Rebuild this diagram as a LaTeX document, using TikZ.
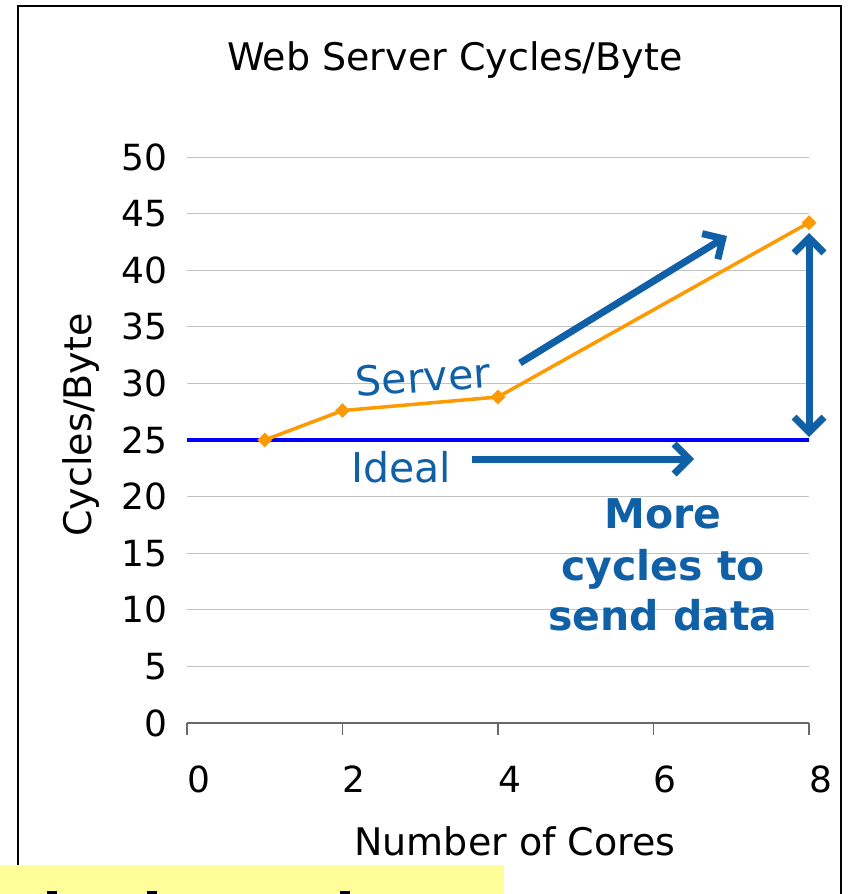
\documentclass[tikz,border=0pt]{standalone}
\usepackage{fontspec}
\setmainfont{DejaVu Sans}
\usetikzlibrary{arrows.meta,shapes.geometric}
\definecolor{annot}{RGB}{16,96,168}
\definecolor{serieorange}{RGB}{255,153,0}
\definecolor{gridgray}{RGB}{195,195,195}
\definecolor{axisgray}{RGB}{105,105,105}
\definecolor{notebg}{RGB}{255,255,153}
\begin{document}
\begin{tikzpicture}[x=1pt,y=-1pt,
  lbl/.style={inner sep=0pt, font=\fontsize{36}{43}\selectfont},
  ttl/.style={inner sep=0pt, font=\fontsize{38}{45}\selectfont},
  note/.style={inner sep=0pt, text=annot, font=\fontsize{41}{50}\selectfont},
  notebold/.style={inner sep=0pt, text=annot, font=\fontsize{41}{50}\selectfont\bfseries},
  gridline/.style={draw=gridgray, line width=1pt},
  axisline/.style={draw=axisgray, line width=1.2pt},
  idealline/.style={draw=blue, line width=4pt},
  serieline/.style={draw=serieorange, line width=3.5pt, line join=round},
  marker/.style={shape=diamond, fill=serieorange, inner sep=0pt, minimum width=15pt, minimum height=15pt},
  bigarrow/.style={draw=annot, line width=7pt, -{Straight Barb[length=15pt,width=30pt]}},
  bigdouble/.style={draw=annot, line width=7pt, {Straight Barb[length=15pt,width=30pt]}-{Straight Barb[length=15pt,width=30pt]}}]

\useasboundingbox (0,0) rectangle (848,894);
\clip (0,0) rectangle (848,894);
\fill[white] (0,0) rectangle (848,894);

% chart frame (its lower edge lies below the page)
\draw[line width=1.5pt] (18,6) rectangle (841,930);

% title and axis titles
\node[ttl, anchor=base] (title) at (455,70) {Web Server Cycles/Byte};
\node[ttl, anchor=base] (xtitle) at (515,855) {Number of Cores};
\node[ttl, anchor=base, rotate=90] (ytitle) at (91,425) {Cycles/Byte};

% plot area in data coordinates
\begin{scope}[shift={(187,723)}, x=77.75pt, y=11.32pt]
  \foreach \v in {5,10,...,50}
    \draw[gridline] (0,\v) -- (8,\v);
  \foreach \v in {0,5,...,50}
    \node[lbl, anchor=base east] (yl\v) at ([xshift=-19pt,yshift=-13pt]0,\v) {\v};
  \draw[axisline] (0,0) -- (8,0);
  \foreach \t in {0,2,4,6,8} {
    \draw[axisline] (\t,0) -- ++(0,-12pt);
    \node[lbl, anchor=base west] (xl\t) at ([yshift=-69pt]\t,0) {\t};
  }
  % ideal scaling
  \coordinate (i0) at (0,25);
  \coordinate (i8) at (8,25);
  \draw[idealline] (i0) -- (i8);
  % measured server series
  \coordinate (q1) at (1,25);
  \coordinate (q2) at (2,27.6);
  \coordinate (q4) at (4,28.8);
  \coordinate (q8) at (8,44.2);
  \draw[serieline] (q1) -- (q2) -- (q4) -- (q8);
  \node[marker] (p1) at (q1) {};
  \node[marker] (p2) at (q2) {};
  \node[marker] (p4) at (q4) {};
  \node[marker] (p8) at (q8) {};
\end{scope}

% annotations
\node[note, anchor=base, rotate=4] (server) at (424,392) {Server};
\node[note, anchor=base] (ideal) at (401,482) {Ideal};
\node[notebold, anchor=base] (more1) at (663,528) {More};
\node[notebold, anchor=base] (more2) at (663,580) {cycles to};
\node[notebold, anchor=base] (more3) at (663,630) {send data};

\coordinate (sa) at (520,363);
\coordinate (sb) at (727,236);
\draw[bigarrow] (sa) -- (sb);
\coordinate (ia) at (472,459);
\coordinate (ib) at (694,459);
\draw[bigarrow] (ia) -- (ib);
\coordinate (va) at (809,233);
\coordinate (vb) at (809,437);
\draw[bigdouble] (va) -- (vb);

% note strip at the bottom, its text cut off by the page edge
\fill[notebg] (0,865) rectangle (504,900);
\fill[black] (47,891) rectangle (57,900);
\fill[black] (147,891) rectangle (157,900);
\fill[black] (340,891) rectangle (350,900);
\end{tikzpicture}
\end{document}
